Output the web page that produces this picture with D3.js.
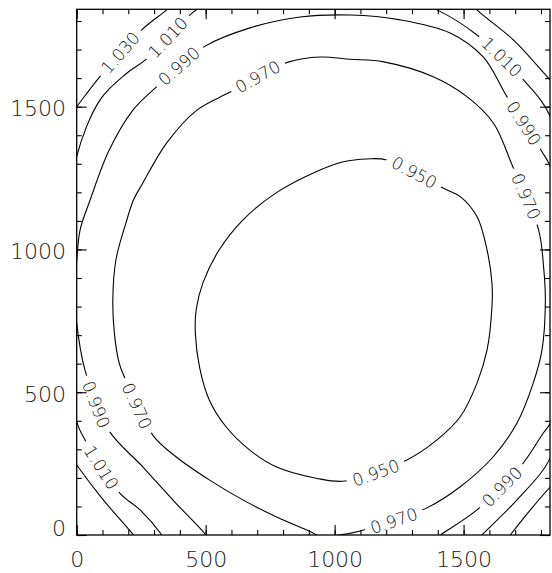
<!DOCTYPE html>
<html>
<head>
<meta charset="utf-8">
<script src="https://cdn.jsdelivr.net/npm/d3@7"></script>
<style>
  body { margin: 0; background: #fff; }
  text { font-family: "DejaVu Sans", "Liberation Sans", sans-serif; font-weight: 200; }
</style>
</head>
<body>
<svg id="chart" width="552" height="573"></svg>
<script>
// Axis extents and tick labels (pixel units of the image grid)
const xMax = 1835;
const yMax = 1841;
const xTicks = [0, 500, 1000, 1500];
const yTicks = [0, 500, 1000, 1500];
const minorStep = 100;

// Contour lines, traced as [x, y] vertices in data units
const contour950 = [[1125,1317],[1203,1313],[1422,1214],[1487,1185],[1552,1115],[1591,998],[1610,882],[1610,800],[1591,648],[1552,532],[1487,414],[1397,333],[1280,263],[1041,189],[928,199],[773,239],[670,298],[579,379],[514,473],[476,589],[460,707],[463,788],[489,882],[552,998],[644,1103],[773,1198],[928,1272],[1034,1307]];
const contour970 = [[944,-4],[901,14],[773,64],[644,123],[514,193],[385,274],[295,350],[185,553],[165,601],[146,707],[140,823],[152,963],[191,1093],[220,1173],[256,1232],[349,1373],[466,1488],[595,1551],[820,1656],[944,1674],[1060,1666],[1190,1657],[1382,1605],[1513,1535],[1616,1442],[1688,1296],[1791,1068],[1810,940],[1817,823],[1804,648],[1770,532],[1707,392],[1615,274],[1487,169],[1358,95],[1099,14],[1002,-2]];
const contour990 = [[506,-11],[495,6],[385,111],[256,239],[123,368],[32,578],[0,742],[-7,851],[0,958],[13,1068],[52,1173],[126,1348],[218,1488],[304,1565],[498,1712],[672,1776],[866,1814],[1060,1821],[1254,1804],[1448,1758],[1576,1674],[1668,1535],[1804,1342],[1836,1290],[1883,1068],[1899,823],[1892,578],[1836,392],[1809,357],[1720,239],[1552,88],[1410,0],[1395,-11]];
const contour1010 = [[339,-14],[330,0],[246,88],[168,146],[32,333],[0,397],[-18,543],[-26,858],[-18,1173],[0,1325],[90,1523],[194,1617],[265,1663],[427,1811],[467,1841],[556,1880],[944,1915],[1300,1870],[1397,1839],[1552,1751],[1733,1593],[1836,1465],[1894,1173],[1906,823],[1883,473],[1836,270],[1707,123],[1571,0],[1557,-14]];
const contour1030TL = [[-26,1471],[0,1500],[90,1605],[252,1769],[349,1839],[381,1867]];
const contour1030BL = [[-26,280],[0,245],[103,123],[220,0],[234,-18]];
const contour1030TR = [[1526,1867],[1552,1839],[1694,1733],[1836,1593],[1860,1572]];
const contour1030BR = [[1860,186],[1836,168],[1759,88],[1681,0],[1666,-18]];

// Where each level is annotated along its line (data units)
const labels950 = [[1313,1275],[1161,217]];
const labels970 = [[703,1604],[1743,1187],[1227,53],[230,452]];
const labels990 = [[401,1639],[1736,1443],[1646,172],[75,455]];
const labels1010 = [[350,1744],[1650,1674],[94,238]];
const labels1030 = [[168,1691]];

const contours = [
  { level: "0.950", points: contour950, closed: true },
  { level: "0.970", points: contour970, closed: true },
  { level: "0.990", points: contour990, closed: false },
  { level: "1.010", points: contour1010, closed: false },
  { level: "1.030", points: contour1030TL, closed: false },
  { level: "1.030", points: contour1030BL, closed: false },
  { level: "1.030", points: contour1030TR, closed: false },
  { level: "1.030", points: contour1030BR, closed: false }
];
const labelSets = [
  { level: "0.950", at: labels950 },
  { level: "0.970", at: labels970 },
  { level: "0.990", at: labels990 },
  { level: "1.010", at: labels1010 },
  { level: "1.030", at: labels1030 }
];

const W = 552, H = 573;
const plotLeft = 76.7, plotRight = 550, plotTop = 9.3, plotBottom = 535;
const x = d3.scaleLinear().domain([0, xMax]).range([plotLeft, plotRight]);
const y = d3.scaleLinear().domain([0, yMax]).range([plotBottom, plotTop]);

const svg = d3.select("#chart");
const defs = svg.append("defs");
defs.append("clipPath").attr("id", "plot-clip")
  .append("rect").attr("x", plotLeft).attr("y", plotTop)
  .attr("width", plotRight - plotLeft).attr("height", plotBottom - plotTop);
const mask = defs.append("mask").attr("id", "label-gaps")
  .attr("maskUnits", "userSpaceOnUse")
  .attr("x", 0).attr("y", 0).attr("width", W).attr("height", H);
mask.append("rect").attr("width", W).attr("height", H).attr("fill", "#fff");

const lineOpen = d3.line().x(d => x(d[0])).y(d => y(d[1])).curve(d3.curveCatmullRom.alpha(0.5));
const lineClosed = d3.line().x(d => x(d[0])).y(d => y(d[1])).curve(d3.curveCatmullRomClosed.alpha(0.5));

const lineLayer = svg.append("g").attr("clip-path", "url(#plot-clip)")
  .append("g").attr("mask", "url(#label-gaps)");

const paths = contours.map(c => {
  const p = lineLayer.append("path")
    .attr("d", (c.closed ? lineClosed : lineOpen)(c.points))
    .attr("fill", "none")
    .attr("stroke", "#000")
    .attr("stroke-width", 1.1);
  return { level: c.level, node: p.node() };
});

// Labels: snap each to its line, rotate along the tangent, cut a gap in the line
const labelLayer = svg.append("g");
const labelSize = 17;
labelSets.forEach(set => {
  const candidates = paths.filter(p => p.level === set.level);
  set.at.forEach(([dx, dy]) => {
    const tx = x(dx), ty = y(dy);
    let best = null;
    candidates.forEach(p => {
      const total = p.node.getTotalLength();
      for (let l = 0; l <= total; l += 1) {
        const pt = p.node.getPointAtLength(l);
        const d2 = (pt.x - tx) ** 2 + (pt.y - ty) ** 2;
        if (!best || d2 < best.d2) best = { d2, l, node: p.node, total };
      }
    });
    const pt = best.node.getPointAtLength(best.l);
    const a = best.node.getPointAtLength(Math.max(0, best.l - 3));
    const b = best.node.getPointAtLength(Math.min(best.total, best.l + 3));
    let ang = Math.atan2(b.y - a.y, b.x - a.x) * 180 / Math.PI;
    if (ang > 90) ang -= 180;
    if (ang < -90) ang += 180;
    const t = labelLayer.append("text")
      .attr("transform", `translate(${pt.x},${pt.y}) rotate(${ang})`)
      .attr("text-anchor", "middle")
      .attr("dy", "0.36em")
      .attr("font-size", labelSize)
      .attr("fill", "#111")
      .text(set.level);
    const len = t.node().getComputedTextLength();
    const pad = 6;
    mask.append("rect")
      .attr("transform", `translate(${pt.x},${pt.y}) rotate(${ang})`)
      .attr("x", -len / 2 - pad).attr("y", -labelSize * 0.45)
      .attr("width", len + 2 * pad).attr("height", labelSize * 0.9)
      .attr("fill", "#000");
  });
});

// Axes: inward major and minor ticks on all four sides
const xMinor = d3.range(0, xMax + 1, minorStep);
const yMinor = d3.range(0, yMax + 1, minorStep);
const tickFont = 22;

function styleAxis(g) {
  g.select(".domain").remove();
  g.attr("font-family", null).attr("font-size", null);
  g.selectAll(".tick line").attr("stroke", "#000").attr("stroke-width", 1.1);
  g.selectAll(".tick text").attr("font-size", tickFont).attr("fill", "#222");
}

svg.append("g").attr("transform", `translate(0,${plotBottom})`)
  .call(d3.axisBottom(x).tickValues(xMinor).tickSizeInner(-5).tickSizeOuter(0).tickFormat(""))
  .call(styleAxis);
svg.append("g").attr("transform", `translate(0,${plotBottom})`)
  .call(d3.axisBottom(x).tickValues(xTicks).tickSizeInner(-10).tickSizeOuter(0).tickPadding(16.8).tickFormat(d3.format("d")))
  .call(styleAxis);
svg.append("g").attr("transform", `translate(0,${plotTop})`)
  .call(d3.axisTop(x).tickValues(xMinor).tickSizeInner(-5).tickSizeOuter(0).tickFormat(""))
  .call(styleAxis);
svg.append("g").attr("transform", `translate(0,${plotTop})`)
  .call(d3.axisTop(x).tickValues(xTicks).tickSizeInner(-10).tickSizeOuter(0).tickFormat(""))
  .call(styleAxis);

svg.append("g").attr("transform", `translate(${plotLeft},0)`)
  .call(d3.axisLeft(y).tickValues(yMinor).tickSizeInner(-5).tickSizeOuter(0).tickFormat(""))
  .call(styleAxis);
const yAxis = svg.append("g").attr("transform", `translate(${plotLeft},0)`)
  .call(d3.axisLeft(y).tickValues(yTicks).tickSizeInner(-10).tickSizeOuter(0).tickPadding(10.7).tickFormat(d3.format("d")))
  .call(styleAxis);
yAxis.selectAll(".tick text").attr("dy", d => d === 0 ? "0em" : "0.4em");
svg.append("g").attr("transform", `translate(${plotRight},0)`)
  .call(d3.axisRight(y).tickValues(yMinor).tickSizeInner(-5).tickSizeOuter(0).tickFormat(""))
  .call(styleAxis);
svg.append("g").attr("transform", `translate(${plotRight},0)`)
  .call(d3.axisRight(y).tickValues(yTicks).tickSizeInner(-10).tickSizeOuter(0).tickFormat(""))
  .call(styleAxis);

// Plot frame
svg.append("rect")
  .attr("x", plotLeft).attr("y", plotTop)
  .attr("width", plotRight - plotLeft).attr("height", plotBottom - plotTop)
  .attr("fill", "none").attr("stroke", "#000").attr("stroke-width", 1.3);
</script>
</body>
</html>
